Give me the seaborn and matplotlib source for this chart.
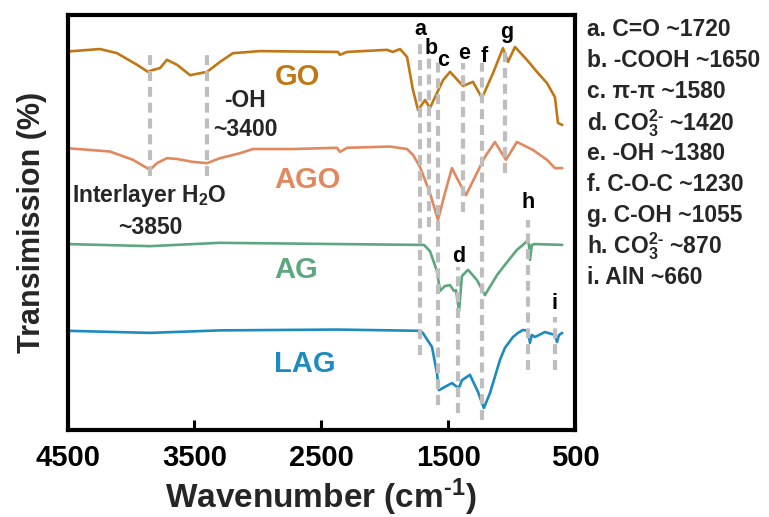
import matplotlib
matplotlib.use("Agg")
import matplotlib.pyplot as plt
import numpy as np
import pandas as pd
import seaborn as sns

# ---- FTIR spectra (wavenumber in cm^-1, transmission in offset arbitrary units) ----
go_wn = [4500, 4244, 4110, 3952, 3866, 3834, 3771, 3716, 3637, 3534, 3400, 3298, 3196, 2983,
         2368, 2353, 2297, 1982, 1935, 1879, 1824, 1777, 1737, 1682, 1643, 1588, 1540, 1485,
         1383, 1304, 1233, 1146, 1068, 1028, 973, 879, 800, 721, 658, 634, 600]
go_t = [91.2, 91.8, 90.8, 88.0, 86.3, 86.7, 87.2, 89.2, 88.0, 85.5, 86.3, 88.7, 90.8, 91.3,
        91.1, 90.4, 91.1, 91.6, 91.1, 91.8, 89.9, 81.9, 77.1, 79.5, 77.6, 81.2, 84.3, 86.3,
        82.9, 83.9, 80.0, 86.0, 92.0, 88.7, 92.3, 89.2, 86.3, 83.6, 80.2, 74.0, 73.5]

ago_wn = [4500, 4165, 3984, 3850, 3795, 3716, 3637, 3511, 3400, 3298, 3140, 3038, 2723, 2376,
          2352, 2297, 1958, 1824, 1777, 1722, 1643, 1580, 1525, 1470, 1422, 1359, 1288, 1210,
          1131, 1044, 958, 832, 721, 658, 600]
ago_t = [67.9, 67.1, 65.1, 62.7, 64.3, 65.5, 65.3, 64.6, 64.3, 65.5, 66.7, 67.7, 67.7, 68.0,
         67.0, 68.0, 68.3, 67.7, 66.3, 63.4, 57.1, 50.6, 57.1, 63.1, 60.2, 56.6, 61.0, 65.8,
         69.4, 65.1, 69.4, 67.5, 65.1, 63.1, 63.1]

ag_wn = [4500, 3850, 3300, 1722, 1690, 1643, 1588, 1564, 1525, 1485, 1454, 1438, 1414, 1391,
         1343, 1272, 1210, 1115, 1052, 958, 910, 879, 863, 855, 840, 816, 600]
ag_t = [44.8, 44.3, 45.1, 44.6, 44.6, 43.1, 38.3, 33.5, 34.7, 34.9, 33.5, 33.7, 28.7, 37.1,
        38.6, 36.1, 32.5, 37.3, 39.8, 43.4, 44.6, 45.5, 44.8, 41.0, 44.6, 44.8, 44.6]

lag_wn = [4500, 3850, 3300, 2376, 1722, 1700, 1627, 1588, 1572, 1525, 1470, 1430, 1414, 1391,
          1328, 1265, 1218, 1170, 1091, 1052, 989, 949, 910, 870, 855, 840, 816, 737, 658,
          642, 626, 600]
lag_t = [23.9, 23.4, 24.0, 24.2, 23.9, 23.4, 20.0, 13.7, 9.6, 10.4, 11.3, 10.4, 10.2, 12.0,
         13.3, 9.2, 5.3, 8.9, 16.9, 19.8, 22.4, 23.4, 24.1, 23.9, 21.0, 22.9, 22.4, 23.6, 22.9,
         21.2, 22.9, 23.4]

samples = ["GO", "AGO", "AG", "LAG"]
sample_colors = ["#C27716", "#E2885F", "#5EA67E", "#1C8BBF"]

# ---- band assignments ----
peak_letters = ["a", "b", "c", "d", "e", "f", "g", "h", "i"]
peak_wn = [1720, 1650, 1580, 1420, 1380, 1230, 1055, 870, 660]
peak_groups = ["C=O", "-COOH", "π-π", r"CO$_3^{2\text{-}}$", "-OH", "C-O-C", "C-OH",
               r"CO$_3^{2\text{-}}$", "AlN"]
water_wn = [3850, 3400]

# ---- figure ----
sns.set_theme(style="white")
plt.rcParams["font.family"] = ["Liberation Sans", "DejaVu Sans"]
plt.rcParams["font.weight"] = "bold"
plt.rcParams["mathtext.fontset"] = "custom"
plt.rcParams["mathtext.rm"] = "Liberation Sans:bold"
plt.rcParams["mathtext.it"] = "Liberation Sans:bold"
plt.rcParams["mathtext.bf"] = "Liberation Sans:bold"
plt.rcParams["mathtext.default"] = "bf"

fig = plt.figure(figsize=(7.69, 5.17), dpi=100)
ax = fig.add_axes([0.0878, 0.1683, 0.6599, 0.8027])

spectra = pd.concat([
    pd.DataFrame({"wavenumber": go_wn, "T": go_t, "sample": "GO"}),
    pd.DataFrame({"wavenumber": ago_wn, "T": ago_t, "sample": "AGO"}),
    pd.DataFrame({"wavenumber": ag_wn, "T": ag_t, "sample": "AG"}),
    pd.DataFrame({"wavenumber": lag_wn, "T": lag_t, "sample": "LAG"}),
], ignore_index=True)

sns.lineplot(data=spectra, x="wavenumber", y="T", hue="sample", hue_order=samples,
             palette=sample_colors, linewidth=1.9, legend=False, ax=ax, zorder=2)

# dashed guides at the band positions
guide_kw = dict(colors="#BEBEBE", linewidth=3.0, linestyles=(0, (2.4, 1.4)), zorder=3,
                capstyle="butt")
guide_top = [94.5, 90.4, 88.7, 39.3, 88.4, 88.4, 92.3, 50.6, 27.2]
guide_bottom = [18.1, 48.9, 6.0, 4.1, 52.5, 2.4, 61.9, 14.5, 14.5]
for wn, top, bot in zip(peak_wn, guide_top, guide_bottom):
    ax.vlines(wn, bot, top, **guide_kw)
for wn in water_wn:
    ax.vlines(wn, 61.2, 91.6, **guide_kw)

# peak letters
letter_y = [96.4, 91.9, 89.0, 41.7, 90.8, 90.1, 95.9, 54.9, 30.6]
letter_dx = [0, 20, 40, 0, 10, 15, 20, 0, 0]
for lt, wn, y, dx in zip(peak_letters, peak_wn, letter_y, letter_dx):
    ax.text(wn - dx, y, lt, ha="center", va="center", fontsize=15.5, fontweight="bold",
            color="black", zorder=4)

# sample names
name_pos = [(2690, 85.0), (2610, 60.3), (2700, 38.5), (2630, 16.0)]
for name, col, (x, y) in zip(samples, sample_colors, name_pos):
    ax.text(x, y, name, ha="center", va="center", fontsize=21, fontweight="bold", color=col)

# water annotations
ann_size = 16.5
ax.text(3100, 79.5, "-OH", ha="center", va="center", fontsize=ann_size, fontweight="bold")
ax.text(3100, 72.3, "~3400", ha="center", va="center", fontsize=ann_size, fontweight="bold")
ax.text(3855, 56.6, "Interlayer H$_2$O", ha="center", va="center", fontsize=ann_size,
        fontweight="bold")
ax.text(3850, 48.7, "~3850", ha="center", va="center", fontsize=ann_size, fontweight="bold")

ax.set_xlim(4500, 500)
ax.set_ylim(0, 100)
ax.set_xticks([4500, 3500, 2500, 1500, 500])
ax.set_xticklabels(["4500", "3500", "2500", "1500", "500"])
ax.set_yticks([])
ax.tick_params(axis="x", direction="in", length=7, width=2.2, pad=10, labelsize=21,
               colors="black", bottom=True)
for lab in ax.get_xticklabels():
    lab.set_fontweight("bold")
for sp in ax.spines.values():
    sp.set_visible(True)
    sp.set_linewidth(3.0)
    sp.set_color("black")

ax.set_xlabel(r"Wavenumber (cm$^{\text{-}1}$)", fontsize=24, fontweight="bold", labelpad=3)
ax.set_ylabel("Transimission (%)", fontsize=22, fontweight="bold", labelpad=15)

# band assignment list
for k, (lt, grp, wn) in enumerate(zip(peak_letters, peak_groups, peak_wn)):
    y_px = 30 + k * 30.9
    fig.text(587 / 769, 1 - y_px / 517, f"{lt}. {grp} ~{wn}", ha="left", va="center",
             fontsize=16.5, fontweight="bold")

fig.savefig("out.png", dpi=100)
